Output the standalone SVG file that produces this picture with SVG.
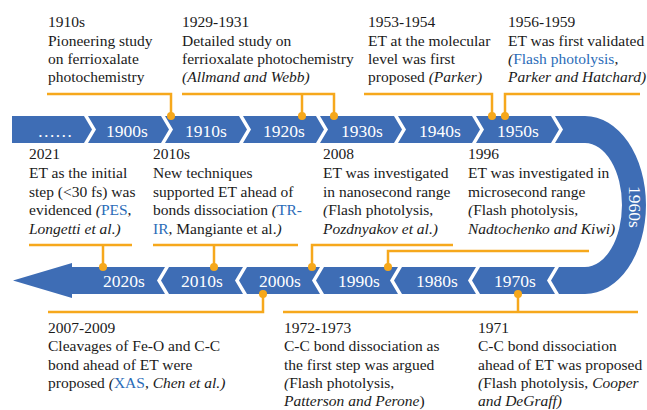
<svg xmlns="http://www.w3.org/2000/svg" width="647" height="410" viewBox="0 0 647 410">
<style>
.seg{fill:#3E6DB5}
.bt{font-family:'Liberation Serif','Tinos','Times New Roman','DejaVu Serif',serif;font-size:17.5px;fill:#fff;text-anchor:middle}
.lb{font-family:'Liberation Serif','Tinos','Times New Roman','DejaVu Serif',serif;font-size:15.5px;fill:#1a1a1a}
.i{font-style:italic}
.b{fill:#2B6CB8}
.cn{fill:none;stroke:#F6A81C;stroke-width:2.5}
.dot{fill:#F6A81C}
</style>
<rect width="647" height="410" fill="#fff"/>
<g id="band-top">
<g id="seg-dots"><polygon class="seg" points="12,116 84,116 92,129.5 84,143 12,143"/><text class="bt" x="55" y="136.5">……</text></g>
<g id="seg-1900s"><polygon class="seg" points="88,116 161,116 169,129.5 161,143 88,143 96,129.5"/><text class="bt" x="127" y="136.5">1900s</text></g>
<g id="seg-1910s"><polygon class="seg" points="165,116 239,116 247,129.5 239,143 165,143 173,129.5"/><text class="bt" x="206" y="136.5">1910s</text></g>
<g id="seg-1920s"><polygon class="seg" points="243,116 316,116 324,129.5 316,143 243,143 251,129.5"/><text class="bt" x="284" y="136.5">1920s</text></g>
<g id="seg-1930s"><polygon class="seg" points="320,116 394,116 402,129.5 394,143 320,143 328,129.5"/><text class="bt" x="362" y="136.5">1930s</text></g>
<g id="seg-1940s"><polygon class="seg" points="398,116 472,116 480,129.5 472,143 398,143 406,129.5"/><text class="bt" x="440" y="136.5">1940s</text></g>
<g id="seg-1950s"><polygon class="seg" points="476,116 551,116 559,129.5 551,143 476,143 484,129.5"/><text class="bt" x="518" y="136.5">1950s</text></g>
</g>
<g id="seg-1960s">
<path class="seg" d="M555,116 L585,116 A61,89 0 0 1 585,294 L559,294 L551,280.5 L559,267 L585,267 A37,62 0 0 0 585,143 L555,143 L563,129.5 Z"/>
<text class="bt" transform="translate(635,207) rotate(90)" x="0" y="6">1960s</text>
</g>
<g id="band-bottom">
<g id="seg-2020s"><polygon class="seg" points="13,280.5 72,263 72,267 165,267 157,280.5 165,294 72,294 72,298"/><text class="bt" x="124" y="287">2020s</text></g>
<g id="seg-2010s"><polygon class="seg" points="169,267 243,267 235,280.5 243,294 169,294 161,280.5"/><text class="bt" x="202" y="287">2010s</text></g>
<g id="seg-2000s"><polygon class="seg" points="247,267 320,267 312,280.5 320,294 247,294 239,280.5"/><text class="bt" x="280" y="287">2000s</text></g>
<g id="seg-1990s"><polygon class="seg" points="324,267 398,267 390,280.5 398,294 324,294 316,280.5"/><text class="bt" x="359" y="287">1990s</text></g>
<g id="seg-1980s"><polygon class="seg" points="402,267 476,267 468,280.5 476,294 402,294 394,280.5"/><text class="bt" x="437" y="287">1980s</text></g>
<g id="seg-1970s"><polygon class="seg" points="480,267 555,267 547,280.5 555,294 480,294 472,280.5"/><text class="bt" x="515" y="287">1970s</text></g>
</g>
<g id="connectors">
<path class="cn" d="M47,94 H171 V116"/>
<path class="cn" d="M182,94 H334 V116 M302,94 V116"/>
<path class="cn" d="M364,94 H492 V116"/>
<path class="cn" d="M640,94 H505 V116"/>
<path class="cn" d="M29,245 H132 M103,245 V267"/>
<path class="cn" d="M153,245 H298 M214,245 V267"/>
<path class="cn" d="M453,245 H312 V267"/>
<path class="cn" d="M589,251 H388 V267"/>
<path class="cn" d="M48,312 H263 V294"/>
<path class="cn" d="M283,312 H638 M518,312 V294"/>
<circle class="dot" cx="171" cy="116" r="4"/>
<circle class="dot" cx="302" cy="116" r="4"/>
<circle class="dot" cx="334" cy="116" r="4"/>
<circle class="dot" cx="492" cy="116" r="4"/>
<circle class="dot" cx="505" cy="116" r="4"/>
<circle class="dot" cx="103" cy="267" r="4"/>
<circle class="dot" cx="214" cy="267" r="4"/>
<circle class="dot" cx="312" cy="267" r="4"/>
<circle class="dot" cx="388" cy="267" r="4"/>
<circle class="dot" cx="263" cy="294" r="4"/>
<circle class="dot" cx="518" cy="294" r="4"/>
</g>
<g id="label-1910s" class="lb">
<text x="48" y="26.5">1910s</text>
<text x="48" y="46">Pioneering study</text>
<text x="48" y="64">on ferrioxalate</text>
<text x="48" y="82">photochemistry</text>
</g>
<g id="label-1929-1931" class="lb">
<text x="182" y="26.5">1929-1931</text>
<text x="182" y="46">Detailed study on</text>
<text x="182" y="64">ferrioxalate photochemistry</text>
<text x="182" y="82" class="i">(Allmand and Webb)</text>
</g>
<g id="label-1953-1954" class="lb">
<text x="368" y="26.5">1953-1954</text>
<text x="368" y="46">ET at the molecular</text>
<text x="368" y="64">level was first</text>
<text x="368" y="82">proposed <tspan class="i">(Parker)</tspan></text>
</g>
<g id="label-1956-1959" class="lb">
<text x="508" y="26.5">1956-1959</text>
<text x="508" y="46">ET was first validated</text>
<text x="508" y="64"><tspan class="i">(</tspan><tspan class="b">Flash photolysis</tspan>,</text>
<text x="508" y="82" class="i">Parker and Hatchard)</text>
</g>
<g id="label-2021" class="lb">
<text x="29" y="159">2021</text>
<text x="29" y="178">ET as the initial</text>
<text x="29" y="196.5">step (&lt;30 fs) was</text>
<text x="29" y="215">evidenced <tspan class="i">(</tspan><tspan class="b">PES</tspan>,</text>
<text x="29" y="233.5" class="i">Longetti et al.)</text>
</g>
<g id="label-2010s" class="lb">
<text x="153" y="159">2010s</text>
<text x="153" y="178">New techniques</text>
<text x="153" y="196.5">supported ET ahead of</text>
<text x="153" y="215">bonds dissociation <tspan class="i">(</tspan><tspan class="b">TR-</tspan></text>
<text x="153" y="233.5"><tspan class="b">IR</tspan>, Mangiante et al.<tspan class="i">)</tspan></text>
</g>
<g id="label-2008" class="lb">
<text x="323" y="159">2008</text>
<text x="323" y="178">ET was investigated</text>
<text x="323" y="196.5">in nanosecond range</text>
<text x="323" y="215"><tspan class="i">(</tspan>Flash photolysis,</text>
<text x="323" y="233.5" class="i">Pozdnyakov et al.)</text>
</g>
<g id="label-1996" class="lb">
<text x="468" y="159">1996</text>
<text x="468" y="178">ET was investigated in</text>
<text x="468" y="196.5">microsecond range</text>
<text x="468" y="215"><tspan class="i">(</tspan>Flash photolysis,</text>
<text x="468" y="233.5" class="i">Nadtochenko and Kiwi)</text>
</g>
<g id="label-2007-2009" class="lb">
<text x="48" y="333">2007-2009</text>
<text x="48" y="351">Cleavages of Fe-O and C-C</text>
<text x="48" y="369.5">bond ahead of ET were</text>
<text x="48" y="388">proposed <tspan class="i">(</tspan><tspan class="b">XAS</tspan>, <tspan class="i">Chen et al.)</tspan></text>
</g>
<g id="label-1972-1973" class="lb">
<text x="284" y="333">1972-1973</text>
<text x="284" y="351">C-C bond dissociation as</text>
<text x="284" y="369.5">the first step was argued</text>
<text x="284" y="388"><tspan class="i">(</tspan>Flash photolysis,</text>
<text x="284" y="406"><tspan class="i">Patterson and Perone</tspan>)</text>
</g>
<g id="label-1971" class="lb">
<text x="478" y="333">1971</text>
<text x="478" y="351">C-C bond dissociation</text>
<text x="478" y="369.5">ahead of ET was proposed</text>
<text x="478" y="388"><tspan class="i">(</tspan>Flash photolysis, <tspan class="i">Cooper</tspan></text>
<text x="478" y="406" class="i">and DeGraff)</text>
</g>
</svg>
